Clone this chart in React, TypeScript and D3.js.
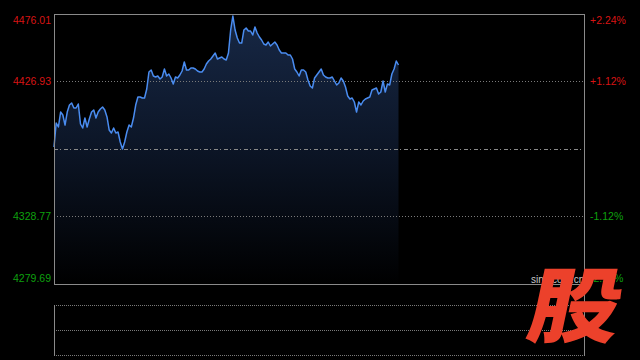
import React from "react";
import * as d3 from "d3";

const prevClose = 4377.85;
const yMin = 4279.69;
const yMax = 4476.01;
const totalMinutes = 241;

const leftTicks = ["4476.01", "4426.93", "4328.77", "4279.69"];
const tickValues = [4476.01, 4426.93, 4328.77, 4279.69];
const rightTicks = ["+2.24%", "+1.12%", "-1.12%", "-2.24%"];

const prices = [
  4379.30, 4396.75, 4393.85, 4404.75, 4402.57, 4395.30, 4404.75, 4409.84, 4411.30, 4407.66,
  4407.66, 4410.57, 4396.03, 4393.12, 4400.39, 4393.85, 4399.66, 4404.75, 4406.21, 4400.39,
  4404.75, 4406.93, 4408.39, 4406.21, 4401.12, 4391.66, 4389.48, 4393.12, 4389.48, 4390.21,
  4382.94, 4377.85, 4382.94, 4390.21, 4395.30, 4393.85, 4400.39, 4409.84, 4415.66, 4415.66,
  4414.93, 4414.93, 4421.48, 4433.84, 4435.29, 4430.93, 4430.20, 4430.93, 4428.75, 4430.20,
  4436.02, 4430.93, 4432.38, 4429.47, 4425.11, 4430.20, 4429.47, 4431.66, 4434.56, 4441.11,
  4435.29, 4435.29, 4436.75, 4436.75, 4436.02, 4434.56, 4433.84, 4433.84, 4436.02, 4439.65,
  4441.84, 4443.29, 4445.47, 4447.65, 4443.29, 4444.02, 4444.74, 4443.29, 4442.56, 4447.65,
  4464.38, 4474.50, 4464.38, 4458.56, 4454.92, 4454.92, 4464.38, 4465.83, 4463.65, 4463.65,
  4460.74, 4466.56, 4462.19, 4459.29, 4457.10, 4454.20, 4453.47, 4455.65, 4452.74, 4454.20,
  4455.65, 4453.47, 4449.83, 4447.65, 4447.65, 4447.65, 4446.20, 4446.20, 4443.29, 4436.02,
  4433.84, 4430.93, 4435.29, 4435.29, 4433.84, 4428.02, 4423.66, 4422.20, 4429.47, 4431.66,
  4433.84, 4436.02, 4431.66, 4430.20, 4429.47, 4429.47, 4430.20, 4427.29, 4424.38, 4425.84,
  4429.47, 4427.29, 4422.93, 4416.39, 4414.21, 4414.93, 4412.02, 4404.75, 4412.02, 4409.84,
  4412.75, 4414.21, 4414.93, 4415.66, 4420.75, 4421.48, 4422.20, 4417.84, 4419.30, 4427.29,
  4419.30, 4425.11, 4424.38, 4432.38, 4436.02, 4441.84, 4438.93,
];

export default function App() {
  const W = 640, H = 360;
  const left = 54, right = 584, top = 14, bottom = 284;
  const subTop = 305, subMid = 330, subBottom = 355;

  const x = d3.scaleLinear().domain([0, totalMinutes - 1]).range([left, right]);
  const y = d3.scaleLinear().domain([yMin, yMax]).range([bottom, top]);

  const line = d3.line<number>().x((_, i) => x(i)).y((d) => y(d));
  const area = d3
    .area<number>()
    .x((_, i) => x(i))
    .y0(bottom)
    .y1((d) => y(d));

  const font = "'Liberation Sans', Arial, Helvetica, sans-serif";
  const red = "#d81414";
  const green = "#0ea00e";
  const grid = "#7a7a7a";

  return (
    <svg
      width={W}
      height={H}
      style={{ position: "fixed", left: 0, top: 0, display: "block" }}
    >
      <defs>
        <linearGradient id="fillGrad" gradientUnits="userSpaceOnUse" x1="0" y1={top} x2="0" y2={bottom}>
          <stop offset="0" stopColor="#172846" />
          <stop offset="0.5" stopColor="#0c1526" />
          <stop offset="1" stopColor="#000000" />
        </linearGradient>
      </defs>
      <rect x={0} y={0} width={W} height={H} fill="#000" />

      <path d={area(prices) ?? ""} fill="url(#fillGrad)" />

      {[tickValues[1], tickValues[2]].map((v) => (
        <line
          key={v}
          x1={left}
          x2={right}
          y1={Math.round(y(v)) + 0.5}
          y2={Math.round(y(v)) + 0.5}
          stroke={grid}
          strokeWidth={1}
          strokeDasharray="1,2"
        />
      ))}
      <line
        x1={left}
        x2={right}
        y1={Math.round(y(prevClose)) + 0.5}
        y2={Math.round(y(prevClose)) + 0.5}
        stroke="#8a8a8a"
        strokeWidth={1}
        strokeDasharray="4,2,1,3"
      />

      <path d={line(prices) ?? ""} fill="none" stroke="#4a8cf0" strokeWidth={1.5} strokeLinejoin="round" />

      <line x1={left} x2={right} y1={top + 0.5} y2={top + 0.5} stroke="#8a8a8a" />
      <line x1={left} x2={right} y1={bottom + 0.5} y2={bottom + 0.5} stroke="#8a8a8a" />
      <line x1={left + 0.5} x2={left + 0.5} y1={top} y2={bottom + 1} stroke="#8a8a8a" />
      <line x1={right + 0.5} x2={right + 0.5} y1={top} y2={subBottom + 1} stroke="#8a8a8a" />

      {[subTop, subMid, subBottom].map((yy) => (
        <line
          key={yy}
          x1={left}
          x2={right}
          y1={yy + 0.5}
          y2={yy + 0.5}
          stroke={grid}
          strokeWidth={1}
          strokeDasharray="1,1"
        />
      ))}
      <line x1={left + 0.5} x2={left + 0.5} y1={subTop} y2={subBottom + 1} stroke="#8a8a8a" />

      {leftTicks.map((t, i) => {
        const v = tickValues[i];
        const yy = i === 0 ? y(v) + 6 : i === 3 ? y(v) - 6 : y(v);
        return (
          <text
            key={t}
            x={51}
            y={yy}
            dy="0.35em"
            textAnchor="end"
            fontFamily={font}
            fontSize={10.5}
            fill={v > prevClose ? red : green}
          >
            {t}
          </text>
        );
      })}
      {rightTicks.map((t, i) => {
        const v = tickValues[i];
        const yy = i === 0 ? y(v) + 6 : i === 3 ? y(v) - 6 : y(v);
        return (
          <text
            key={t}
            x={590}
            y={yy}
            dy="0.35em"
            textAnchor="start"
            fontFamily={font}
            fontSize={10.5}
            fill={v > prevClose ? red : green}
          >
            {t}
          </text>
        );
      })}

      <text x={531} y={283} fontFamily={font} fontSize={10} fill="#c8c8c8">
        sina.com.cn
      </text>
      <g transform="translate(570,336) skewX(-12) scale(1.12,1)">
        <text
          x={0}
          y={0}
          textAnchor="middle"
          fontFamily="'Noto Sans CJK SC', sans-serif"
          fontWeight={900}
          fontSize={82}
          fill="#ec412b"
        >
          股
        </text>
      </g>
    </svg>
  );
}
